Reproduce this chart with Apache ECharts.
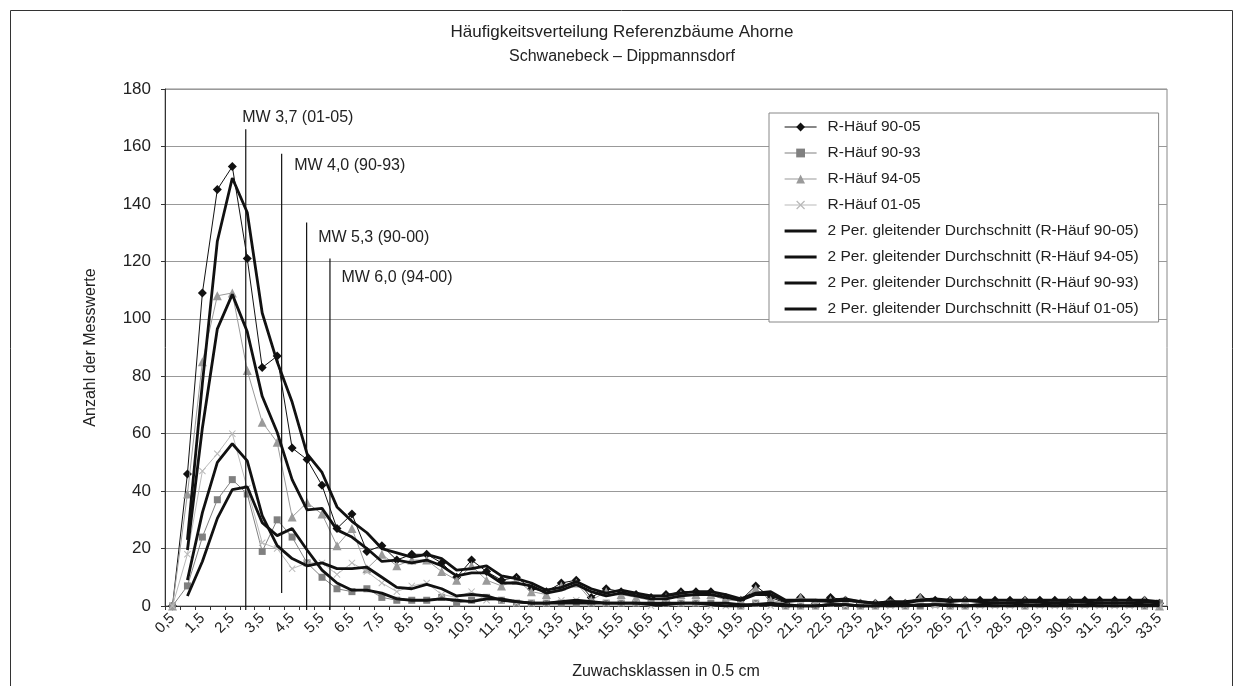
<!DOCTYPE html>
<html><head><meta charset="utf-8">
<script src="https://cdn.jsdelivr.net/npm/echarts@6/dist/echarts.min.js"></script>
<style>html,body{margin:0;padding:0;background:#fff}#c{width:1244px;height:686px}</style>
</head><body><div id="c"></div><script>
const categories = ['0,5','1,0','1,5','2,0','2,5','3,0','3,5','4,0','4,5','5,0','5,5','6,0','6,5','7,0','7,5','8,0','8,5','9,0','9,5','10,0',
'10,5','11,0','11,5','12,0','12,5','13,0','13,5','14,0','14,5','15,0','15,5','16,0','16,5','17,0','17,5','18,0','18,5','19,0','19,5','20,0',
'20,5','21,0','21,5','22,0','22,5','23,0','23,5','24,0','24,5','25,0','25,5','26,0','26,5','27,0','27,5','28,0','28,5','29,0','29,5','30,0',
'30,5','31,0','31,5','32,0','32,5','33,0','33,5'];
const haeuf9005 = [0,46,109,145,153,121,83,87,55,51,42,27,32,19,21,16,18,18,15,10,16,12,9,10,6,5,8,9,3,6,5,4,3,4,5,5,5,3,2,7,3,1,3,1,3,2,1,1,2,1,3,2,2,2,2,2,2,2,2,2,2,2,2,2,2,2,1];
const haeuf9093 = [0,7,24,37,44,39,19,30,24,15,10,6,5,6,3,2,2,2,3,1,2,3,2,1,1,1,1,1,1,1,1,1,1,1,1,1,1,1,0,1,1,0,0,0,1,0,0,0,1,0,0,1,0,0,1,1,1,0,1,1,0,1,1,1,1,0,1];
const haeuf9405 = [0,39,85,108,109,82,64,57,31,36,32,21,27,13,18,14,16,16,12,9,14,9,7,9,5,4,7,8,2,5,4,3,2,3,4,4,4,2,2,6,2,1,3,1,2,2,1,1,1,1,3,1,2,2,1,1,1,2,1,1,2,1,1,1,1,2,0];
const haeuf0105 = [0,18,47,53,60,41,22,20,13,15,15,11,15,12,8,5,7,8,4,3,5,2,2,1,1,1,2,2,1,1,1,1,0,1,1,1,0,0,0,1,0,0,0,0,1,0,0,0,0,0,1,0,0,0,0,0,0,0,0,0,0,0,0,0,0,0,0];
// 2-period moving averages
const gd9005 = [null,23,77.5,127,149,137,102,85,71,53,46.5,34.5,29.5,25.5,20,18.5,17,18,16.5,12.5,13,14,10.5,9.5,8,5.5,6.5,8.5,6,4.5,5.5,4.5,3.5,3.5,4.5,5,5,4,2.5,4.5,5,2,2,2,2,2.5,1.5,1,1.5,1.5,2,2.5,2,2,2,2,2,2,2,2,2,2,2,2,2,2,1.5];
const gd9405 = [null,19.5,62,96.5,108.5,95.5,73,60.5,44,33.5,34,26.5,24,20,15.5,16,15,16,14,10.5,11.5,11.5,8,8,7,4.5,5.5,7.5,5,3.5,4.5,3.5,2.5,2.5,3.5,4,4,3,2,4,4,1.5,2,2,1.5,2,1.5,1,1,1,2,2,1.5,2,1.5,1,1,1.5,1.5,1,1.5,1.5,1,1,1,1.5,1];
const gd9093 = [null,3.5,15.5,30.5,40.5,41.5,29,24.5,27,19.5,12.5,8,5.5,5.5,4.5,2.5,2,2,2.5,2,1.5,2.5,2.5,1.5,1,1,1,1,1,1,1,1,1,1,1,1,1,1,0.5,0.5,1,0.5,0,0,0.5,0.5,0,0,0.5,0.5,0,0.5,0.5,0,0.5,1,1,0.5,0.5,1,0.5,0.5,1,1,1,0.5,0.5];
const gd0105 = [null,9,32.5,50,56.5,50.5,31.5,21,16.5,14,15,13,13,13.5,10,6.5,6,7.5,6,3.5,4,3.5,2,1.5,1,1,1.5,2,1.5,1,1,1,0.5,0.5,1,1,0.5,0,0,0.5,0.5,0,0,0,0.5,0.5,0,0,0,0,0.5,0.5,0,0,0,0,0,0,0,0,0,0,0,0,0,0,0];
// mean-value markers (MW): label, position on category index scale, top and bottom values
const mwLabels = ['MW 3,7 (01-05)','MW 4,0 (90-93)','MW 5,3 (90-00)','MW 6,0 (94-00)'];
const mwPos = [4.9, 7.3, 8.97, 10.53];
const mwTop = [166, 157.5, 133.5, 121];
const mwBottom = [-1.4, 4.5, -1.4, -1.4];

const yTicks = {min:0, max:180, interval:20};
const FONT = '"Liberation Sans", Arial, sans-serif';
const TXT = '#222';
const mwLabelOffset = [[-3,-11],[13,12],[12,16],[12,20]];

const chart = echarts.init(document.getElementById('c'));

function raw(name, data, symbol, size, color, z) {
  return {name, type:'line', data, symbol, symbolSize:size, showSymbol:true,
    itemStyle:{color, borderColor:color, borderWidth:0}, lineStyle:{color, width:1}, z, animation:false};
}
function ma(name, data) {
  return {name, type:'line', data, symbol:'none', showSymbol:false, connectNulls:false,
    itemStyle:{color:'#111'}, lineStyle:{color:'#111', width:2.8}, z:10, animation:false};
}
const xPath = 'path://M0,1 L1,0 L5,4 L9,0 L10,1 L6,5 L10,9 L9,10 L5,6 L1,10 L0,9 L4,5 Z';

const series = [
  raw('R-Häuf 90-05', haeuf9005, 'diamond', 9, '#111', 4),
  raw('R-Häuf 90-93', haeuf9093, 'rect', 7, '#808080', 5),
  raw('R-Häuf 94-05', haeuf9405, 'triangle', 9, '#9a9a9a', 6),
  raw('R-Häuf 01-05', haeuf0105, xPath, 7, '#b9b9b9', 7),
  ma('2 Per. gleitender Durchschnitt (R-Häuf 90-05)', gd9005),
  ma('2 Per. gleitender Durchschnitt (R-Häuf 94-05)', gd9405),
  ma('2 Per. gleitender Durchschnitt (R-Häuf 90-93)', gd9093),
  ma('2 Per. gleitender Durchschnitt (R-Häuf 01-05)', gd0105)
];
mwLabels.forEach((lab, k) => {
  series.push({
    name: lab, type:'line', xAxisIndex:1, yAxisIndex:0, clip:false, silent:true, animation:false, z:12,
    symbol:'circle', symbolSize:1, showSymbol:true, itemStyle:{color:'rgba(0,0,0,0)'},
    lineStyle:{color:'#111', width:1.2},
    data: [[mwPos[k], mwBottom[k]], {value:[mwPos[k], mwTop[k]], label:{show:true, formatter:lab,
      position: mwLabelOffset[k], align:'left', verticalAlign:'middle', fontSize:16, color:TXT, fontFamily:FONT}}]
  });
});

const legendData = series.slice(0,8).map((s, i) => i < 4
  ? {name:s.name, lineStyle:{width:1.2}}
  : {name:s.name, itemStyle:{opacity:0}, lineStyle:{width:3.2, color:'#111'}});

chart.setOption({
  backgroundColor:'#fff',
  animation:false,
  textStyle:{fontFamily:FONT, color:TXT},
  title:[
    {text:'Häufigkeitsverteilung Referenzbäume Ahorne', left:'center', top:24, padding:0,
     textStyle:{fontSize:17, fontWeight:'normal', color:TXT, fontFamily:FONT}},
    {text:'Schwanebeck – Dippmannsdorf', left:'center', top:49, padding:0,
     textStyle:{fontSize:16, fontWeight:'normal', color:TXT, fontFamily:FONT}}
  ],
  legend:{
    orient:'vertical', left:769, top:113, padding:[6,20,5,14], itemGap:10, itemWidth:32, itemHeight:11,
    borderColor:'#888', borderWidth:1, backgroundColor:'#fff', selectedMode:false,
    data: legendData,
    textStyle:{fontSize:15.5, color:TXT, fontFamily:FONT, padding:[0,0,0,6]}
  },
  grid:{left:165, right:77, top:89, bottom:80, show:true, borderColor:'#888', borderWidth:1, backgroundColor:'transparent'},
  xAxis:[
    {type:'category', data:categories, boundaryGap:true,
     name:'Zuwachsklassen in 0.5 cm', nameLocation:'middle', nameGap:58,
     nameTextStyle:{fontSize:16, color:TXT, fontFamily:FONT},
     axisLine:{show:true, lineStyle:{color:'#333', width:1}},
     axisTick:{show:true, interval:0, length:4, lineStyle:{color:'#333'}},
     axisLabel:{interval:1, rotate:45, fontSize:15, color:TXT, margin:10, fontFamily:FONT},
     splitLine:{show:false}},
    {type:'value', min:-0.5, max:66.5, show:false}
  ],
  yAxis:{type:'value', min:yTicks.min, max:yTicks.max, interval:yTicks.interval,
    name:'Anzahl der Messwerte', nameLocation:'middle', nameGap:66, nameRotate:90,
    nameTextStyle:{fontSize:16, color:TXT, fontFamily:FONT},
    axisLine:{show:true, onZero:false, lineStyle:{color:'#333', width:1}},
    axisTick:{show:true, length:4, lineStyle:{color:'#333'}},
    axisLabel:{fontSize:17, color:TXT, margin:14, fontFamily:FONT},
    splitLine:{show:true, lineStyle:{color:'#999', width:1}}},
  graphic:[{type:'rect', shape:{x:10.5, y:10.5, width:1222, height:700}, silent:true, z:-10,
    style:{fill:'none', stroke:'#333', lineWidth:1}}],
  series
});
</script></body></html>
